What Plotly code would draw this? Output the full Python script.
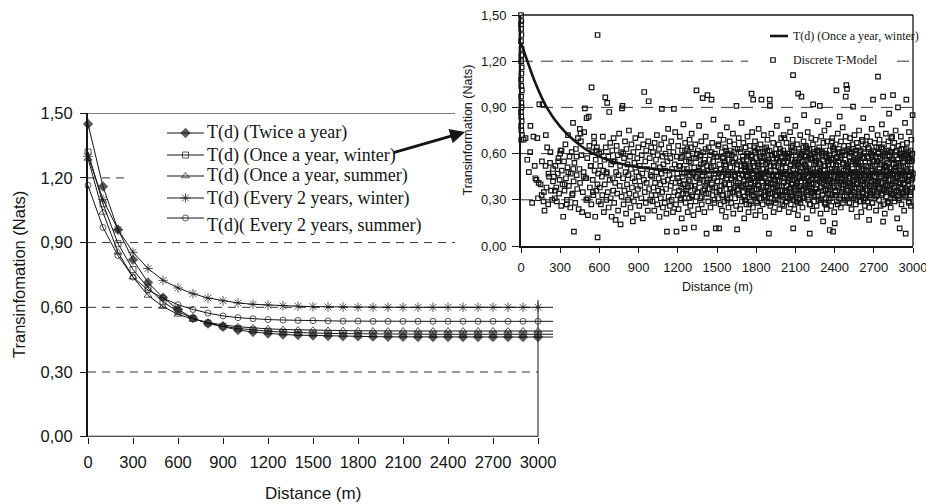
import plotly.graph_objects as go

W, H = 934, 504          # browser window
OFF = 8                  # default page body margin in the browser

# ---------------- main chart data ----------------
distance_m = [0, 100, 200, 300, 400, 500, 600, 700, 800, 900, 1000, 1100, 1200, 1300, 1400, 1500,
              1600, 1700, 1800, 1900, 2000, 2100, 2200, 2300, 2400, 2500, 2600, 2700, 2800, 2900, 3000, 3100]
twice_a_year = [1.45, 1.16, 0.96, 0.82, 0.715, 0.645, 0.59, 0.55, 0.525, 0.51, 0.495, 0.485, 0.478, 0.474, 0.471, 0.469,
                0.467, 0.466, 0.465, 0.464, 0.463, 0.463, 0.462, 0.462, 0.462, 0.462, 0.462, 0.462, 0.462, 0.462, 0.462, 0.462]
once_winter = [1.32, 1.08, 0.895, 0.775, 0.69, 0.625, 0.58, 0.548, 0.527, 0.512, 0.502, 0.495, 0.489, 0.485, 0.482, 0.48,
               0.479, 0.478, 0.477, 0.476, 0.476, 0.476, 0.475, 0.475, 0.475, 0.475, 0.475, 0.475, 0.475, 0.475, 0.475, 0.475]
once_summer = [1.29, 1.04, 0.855, 0.74, 0.655, 0.603, 0.567, 0.545, 0.53, 0.518, 0.51, 0.504, 0.5, 0.497, 0.495, 0.494,
               0.493, 0.492, 0.491, 0.49, 0.49, 0.49, 0.49, 0.49, 0.49, 0.49, 0.49, 0.49, 0.49, 0.49, 0.49, 0.49]
every2_winter = [1.30, 1.10, 0.96, 0.855, 0.78, 0.725, 0.69, 0.663, 0.643, 0.63, 0.62, 0.614, 0.61, 0.607, 0.605, 0.603,
                 0.602, 0.601, 0.60, 0.60, 0.60, 0.60, 0.60, 0.60, 0.60, 0.60, 0.60, 0.60, 0.60, 0.60, 0.60, 0.60]
every2_summer = [1.165, 0.97, 0.84, 0.74, 0.68, 0.643, 0.612, 0.59, 0.573, 0.56, 0.552, 0.547, 0.543, 0.541, 0.539, 0.538,
                 0.537, 0.536, 0.536, 0.535, 0.535, 0.535, 0.535, 0.535, 0.535, 0.535, 0.535, 0.535, 0.535, 0.535, 0.535, 0.535]
series_names = ["T(d) (Twice a year)", "T(d) (Once a year, winter)", "T(d) (Once a year, summer)",
                "T(d) (Every 2 years, winter)", "T(d)( Every 2 years, summer)"]

main_xticks = [0, 300, 600, 900, 1200, 1500, 1800, 2100, 2400, 2700, 3000]
main_xticklabels = ["0", "300", "600", "900", "1200", "1500", "1800", "2100", "2400", "2700", "3000"]
main_yticks = [0, 0.3, 0.6, 0.9, 1.2, 1.5]
main_yticklabels = ["0,00", "0,30", "0,60", "0,90", "1,20", "1,50"]

# ---------------- inset: discrete T-model point cloud (read by eye) ----------------
band_a_d = [0, 2, 1, 3, 0, 4, 2, 1, 5, 3, 0, 2, 6, 1, 3, 4, 0, 2, 5, 1, 3, 7, 2, 0]
band_a_t = [1.50, 1.46, 1.41, 1.37, 1.33, 1.28, 1.24, 1.20, 1.16, 1.12, 1.08, 1.04, 1.01, 0.97, 0.93, 0.90,
            0.87, 0.84, 0.81, 0.78, 0.75, 0.72, 0.69, 1.44]
band_b_d = [20, 35, 48, 60, 72, 85, 95, 105, 118, 125, 135, 140, 150, 158, 165, 172, 180, 188, 195, 200,
            208, 215, 222, 230, 238, 245, 130, 160, 110, 190, 225, 245, 70, 210, 175]
band_b_t = [0.69, 0.70, 0.56, 0.48, 0.78, 0.28, 0.71, 0.52, 0.43, 0.70, 0.41, 0.92, 0.40, 0.33, 0.92, 0.29,
            0.23, 0.52, 0.38, 0.64, 0.27, 0.45, 0.54, 0.36, 0.30, 0.50, 0.31, 0.55, 0.44, 0.72, 0.61, 0.42,
            0.61, 0.47, 0.35]
band_c_d = [252, 258, 263, 270, 274, 281, 287, 292, 296, 303, 308, 312, 318, 323, 329, 333, 340, 344, 351, 356,
            360, 366, 371, 377, 381, 388, 392, 398, 403, 405, 409, 415, 420, 426, 430, 436, 441, 447, 452, 458,
            462, 468, 473, 479, 483, 489, 494, 500, 502, 507, 512, 518, 523, 527, 533, 538, 540, 545, 549, 554,
            559, 563, 568, 572, 577, 581, 586, 590, 594, 598,
            260, 285, 310, 335, 362, 395, 425, 455, 480, 510, 535, 560, 585, 300, 350, 400, 450, 500, 550, 575]
band_c_t = [0.45, 0.31, 0.52, 0.38, 0.29, 0.47, 0.57, 0.34, 0.43, 0.62, 0.26, 0.49, 0.40, 0.19, 0.55, 0.36,
            0.66, 0.44, 0.30, 0.51, 0.72, 0.39, 0.58, 0.25, 0.47, 0.61, 0.33, 0.80, 0.42, 0.093, 0.54, 0.28,
            0.63, 0.46, 0.37, 0.70, 0.24, 0.50, 0.41, 0.68, 0.59, 0.22, 0.35, 0.48, 0.74, 0.894, 0.44, 0.30,
            0.83, 0.57, 0.20, 0.84, 0.65, 0.38, 0.52, 0.27, 1.03, 0.61, 0.43, 0.33, 0.71, 0.49, 0.19, 0.56,
            0.36, 0.64, 0.056, 0.47, 0.29, 0.60,
            0.36, 0.55, 0.62, 0.40, 0.48, 0.34, 0.58, 0.73, 0.45, 0.31, 0.52, 0.67, 0.40, 0.60, 0.27, 0.50,
            0.76, 0.44, 0.35, 0.62]
band_d_d = [603, 607, 611, 615, 619, 622, 626, 630, 634, 638, 641, 645, 649, 653, 656, 660, 664, 668, 671, 675,
            679, 683, 686, 690, 694, 698, 702, 706, 709, 713, 717, 721, 724, 728, 732, 736, 740, 743, 747, 751,
            755, 758, 762, 766, 770, 773, 777, 781, 785, 789, 792, 796, 800, 804, 807, 811, 815, 819, 822, 826,
            830, 834, 838, 841, 845, 849, 853, 856, 860, 864, 868, 872, 875, 879, 883, 887, 890, 894, 898, 902,
            906, 909, 913, 917, 921, 924, 928, 932, 936, 940, 943, 947, 951, 955, 958, 962, 966, 970, 974, 977,
            981, 985, 989, 992, 996, 999, 586, 655, 706, 782]
band_d_t = [0.38, 0.52, 0.27, 0.61, 0.45, 0.33, 0.71, 0.49, 0.22, 0.56,
            0.40, 0.965, 0.64, 0.30, 0.47, 0.93, 0.35, 0.58, 0.25, 0.87,
            0.43, 0.67, 0.31, 0.53, 0.19, 0.62, 0.44, 0.36, 0.70, 0.28,
            0.55, 0.41, 0.17, 0.48, 0.65, 0.34, 0.59, 0.23, 0.46, 0.73,
            0.39, 0.52, 0.14, 0.61, 0.32, 0.894, 0.91, 0.44, 0.27, 0.57,
            0.36, 0.68, 0.48, 0.21, 0.63, 0.40, 0.53, 0.30, 0.46, 0.75,
            0.34, 0.58, 0.25, 0.50, 0.66, 0.38, 0.44, 0.16, 0.61, 0.29,
            0.54, 0.42, 0.70, 0.33, 0.48, 0.20, 0.57, 0.37, 0.64, 0.45,
            0.26, 0.52, 0.39, 0.72, 0.31, 0.59, 0.47, 0.18, 0.66, 0.43,
            1.00, 0.35, 0.55, 0.28, 0.62, 0.41, 0.50, 0.23, 0.68, 0.94,
            0.37, 0.57, 0.30, 0.46, 0.64, 0.33, 1.37, 0.48, 0.55, 0.60]
band_e_d = [1003, 1006, 1010, 1013, 1016, 1020, 1023, 1026, 1030, 1033, 1036, 1040, 1043, 1046, 1050, 1053, 1056, 1060, 1063, 1066,
            1070, 1073, 1076, 1078, 1080, 1083, 1086, 1090, 1093, 1096, 1100, 1103, 1106, 1110, 1113, 1117, 1120, 1123, 1126, 1130,
            1133, 1136, 1140, 1143, 1146, 1150, 1153, 1156, 1160, 1163, 1166, 1170, 1173, 1176, 1180, 1183, 1186, 1190, 1193, 1196,
            1200, 1203, 1206, 1210, 1213, 1216, 1220, 1223, 1226, 1230, 1233, 1236, 1240, 1243, 1246, 1251, 1253, 1256, 1260, 1263,
            1266, 1270, 1273, 1276, 1280, 1283, 1286, 1290, 1293, 1296, 1300, 1303, 1306, 1310, 1313, 1316, 1320, 1323, 1326, 1330,
            1333, 1336, 1340, 1343, 1346, 1350, 1353, 1356, 1360, 1363, 1366, 1370, 1373, 1376, 1380, 1383, 1386, 1390, 1394, 1396,
            1400, 1403, 1406, 1410, 1413, 1416, 1420, 1423, 1427, 1430, 1433, 1436, 1440, 1443, 1446, 1450, 1453, 1458, 1460, 1463,
            1466, 1470, 1473, 1476, 1480, 1483, 1486, 1491, 1493, 1497]
band_e_t = [0.45, 0.29, 0.61, 0.38, 0.52, 0.23, 0.67, 0.41, 0.33, 0.56, 0.48, 0.72, 0.27, 0.59, 0.36, 0.44, 0.63, 0.19, 0.51, 0.40,
            0.31, 0.66, 0.47, 0.89, 0.35, 0.58, 0.25, 0.53, 0.42, 0.70, 0.28, 0.49, 0.60, 0.37, 0.21, 0.093, 0.55, 0.43, 0.76, 0.32,
            0.64, 0.46, 0.26, 0.57, 0.39, 0.68, 0.30, 0.50, 0.44, 0.22, 0.61, 0.89, 0.35, 0.53, 0.74, 0.41, 0.27, 0.093, 0.58, 0.47,
            0.33, 0.65, 0.24, 0.52, 0.42, 0.71, 0.30, 0.57, 0.38, 0.18, 0.62, 0.45, 0.34, 0.79, 0.50, 0.115, 0.40, 0.67, 0.28, 0.55,
            0.36, 0.48, 0.63, 0.22, 0.59, 0.43, 0.31, 0.69, 0.46, 0.26, 0.54, 0.39, 0.73, 0.32, 0.60, 0.47, 0.20, 0.12, 0.51, 0.37,
            0.66, 0.29, 0.57, 1.01, 0.44, 0.35, 0.62, 0.24, 0.49, 0.78, 0.41, 0.58, 0.31, 0.53, 0.68, 0.27, 0.45, 0.96, 0.36, 0.61,
            0.48, 0.22, 0.56, 0.39, 0.71, 0.34, 0.08, 0.52, 0.98, 0.43, 0.29, 0.64, 0.46, 0.37, 0.59, 0.25, 0.51, 0.95, 0.40, 0.67,
            0.33, 0.55, 0.82, 0.44, 0.28, 0.60, 0.38, 0.115, 0.49, 0.35]
band_f_d = [1502, 1505, 1508, 1511, 1514, 1516, 1519, 1522, 1525, 1527, 1530, 1533, 1536, 1538, 1541, 1544, 1547, 1550, 1552, 1555,
            1558, 1561, 1563, 1566, 1569, 1572, 1575, 1577, 1580, 1583, 1586, 1588, 1591, 1594, 1597, 1600, 1602, 1605, 1608, 1611,
            1613, 1616, 1619, 1622, 1625, 1627, 1630, 1633, 1636, 1638, 1641, 1644, 1647, 1649, 1652, 1654, 1657, 1660, 1663, 1666,
            1669, 1671, 1674, 1677, 1680, 1683, 1685, 1688, 1691, 1694, 1697, 1699, 1702, 1705, 1708, 1711, 1713, 1716, 1719, 1722,
            1725, 1727, 1730, 1733, 1736, 1738, 1741, 1744, 1747, 1750, 1752, 1755, 1758, 1761, 1764, 1766, 1769, 1772, 1775, 1777,
            1780, 1783, 1786, 1788, 1791, 1794, 1797, 1800, 1802, 1805, 1808, 1811, 1813, 1816, 1819, 1822, 1825, 1827, 1830, 1833,
            1836, 1838, 1840, 1844, 1847, 1850, 1852, 1855, 1858, 1861, 1863, 1866, 1869, 1872, 1875, 1877, 1880, 1883, 1886, 1888,
            1891, 1894, 1897, 1900, 1902, 1904, 1905, 1908, 1911, 1913, 1916, 1919, 1922, 1925, 1927, 1930, 1933, 1936, 1938, 1941,
            1944, 1947, 1950, 1952, 1955, 1958, 1961, 1963, 1966, 1969, 1972, 1975, 1977, 1980, 1983, 1986, 1988, 1991, 1994, 1997]
band_f_t = [0.42, 0.58, 0.31, 0.66, 0.47, 0.115, 0.53, 0.36, 0.72, 0.27, 0.50, 0.39, 0.61, 0.23, 0.45, 0.57, 0.33, 0.69, 0.48, 0.29,
            0.55, 0.41, 0.64, 0.19, 0.52, 0.37, 0.77, 0.44, 0.30, 0.60, 0.46, 0.25, 0.56, 0.40, 0.68, 0.34, 0.51, 0.62, 0.28, 0.43,
            0.59, 0.35, 0.48, 0.73, 0.21, 0.54, 0.38, 0.66, 0.45, 0.31, 0.57, 0.42, 0.26, 0.91, 0.50, 0.108, 0.63, 0.37, 0.47, 0.70,
            0.33, 0.55, 0.44, 0.24, 0.61, 0.39, 0.52, 0.80, 0.29, 0.46, 0.58, 0.35, 0.67, 0.42, 0.18, 0.53, 0.49, 0.30, 0.64, 0.40,
            0.27, 0.56, 0.45, 0.71, 0.34, 0.60, 0.22, 0.48, 0.38, 0.65, 0.51, 0.43, 0.29, 0.59, 0.99, 0.36, 0.74, 0.47, 0.25, 0.95,
            0.54, 0.32, 0.62, 0.41, 0.68, 0.20, 0.49, 0.57, 0.37, 0.45, 0.28, 0.63, 0.52, 0.39, 0.76, 0.44, 0.31, 0.58, 0.23, 0.66,
            0.47, 0.35, 0.95, 0.55, 0.42, 0.27, 0.61, 0.50, 0.72, 0.33, 0.58, 0.44, 0.19, 0.53, 0.38, 0.64, 0.48, 0.29, 0.69, 0.41,
            0.56, 0.34, 0.08, 0.46, 0.62, 0.95, 0.91, 0.26, 0.52, 0.40, 0.73, 0.31, 0.59, 0.45, 0.37, 0.67, 0.22, 0.54, 0.43, 0.60,
            0.35, 0.49, 0.28, 0.63, 0.46, 0.78, 0.39, 0.57, 0.30, 0.51, 0.66, 0.42, 0.24, 0.55, 0.36, 0.61, 0.47, 0.70, 0.33, 0.58]
band_g_d = [2002, 2004, 2007, 2009, 2012, 2014, 2017, 2019, 2022, 2024, 2027, 2029, 2032, 2034, 2037, 2039, 2042, 2044, 2047, 2049,
            2052, 2054, 2057, 2059, 2062, 2064, 2067, 2069, 2072, 2074, 2077, 2079, 2082, 2083, 2087, 2089, 2092, 2094, 2097, 2099,
            2102, 2104, 2107, 2109, 2112, 2114, 2117, 2119, 2121, 2124, 2127, 2129, 2132, 2134, 2137, 2139, 2142, 2144, 2146, 2149,
            2152, 2154, 2157, 2159, 2162, 2164, 2167, 2169, 2172, 2174, 2177, 2179, 2182, 2184, 2187, 2189, 2192, 2194, 2197, 2199,
            2202, 2204, 2207, 2210, 2212, 2214, 2217, 2219, 2222, 2224, 2227, 2229, 2232, 2234, 2236, 2239, 2242, 2244, 2247, 2249,
            2252, 2254, 2257, 2259, 2262, 2264, 2267, 2269, 2272, 2274, 2277, 2279, 2282, 2284, 2287, 2289, 2292, 2294, 2297, 2299,
            2302, 2304, 2307, 2309, 2312, 2314, 2317, 2319, 2322, 2324, 2327, 2329, 2332, 2334, 2337, 2339, 2342, 2344, 2347, 2349,
            2352, 2354, 2357, 2359, 2363, 2364, 2367, 2369, 2372, 2374, 2377, 2379, 2382, 2384, 2388, 2389, 2392, 2394, 2397, 2399,
            2401, 2404, 2407, 2409, 2412, 2414, 2417, 2419, 2422, 2424, 2427, 2429, 2432, 2434, 2437, 2439, 2442, 2444, 2447, 2449,
            2452, 2454, 2457, 2459, 2462, 2464, 2467, 2469, 2472, 2474, 2477, 2479, 2482, 2484, 2487, 2490, 2492, 2495, 2497, 2499,
            2083, 2010, 2040, 2065, 2095, 2130, 2160, 2185, 2215, 2245, 2270, 2300, 2330, 2355, 2380, 2410, 2435, 2460, 2485, 2500]
band_g_t = [0.47, 0.33, 0.62, 0.41, 0.55, 0.26, 0.70, 0.44, 0.36, 0.58, 0.29, 0.51, 0.67, 0.39, 0.46, 0.82, 0.31, 0.57, 0.43, 0.22,
            0.60, 0.48, 0.35, 0.74, 0.52, 0.27, 0.64, 0.40, 0.56, 0.45, 0.32, 0.69, 1.11, 0.50, 0.38, 0.61, 0.24, 0.54, 0.43, 0.78,
            0.36, 0.59, 0.47, 0.29, 0.66, 0.41, 0.53, 0.20, 0.99, 0.45, 0.63, 0.34, 0.57, 0.48, 0.72, 0.28, 0.51, 0.39, 0.97, 0.60,
            0.44, 0.25, 0.55, 0.37, 0.68, 0.46, 0.85, 0.31, 0.58, 0.42, 0.52, 0.65, 0.35, 0.49, 0.18, 0.61, 0.40, 0.74, 0.30, 0.56,
            0.45, 0.38, 0.63, 0.08, 0.50, 0.27, 0.59, 0.43, 0.70, 0.34, 0.57, 0.47, 0.23, 0.66, 0.92, 0.41, 0.53, 0.32, 0.61, 0.48,
            0.37, 0.69, 0.44, 0.55, 0.26, 0.62, 0.50, 0.81, 0.35, 0.46, 0.58, 0.30, 0.64, 0.42, 0.91, 0.53, 0.21, 0.47, 0.71, 0.38,
            0.60, 0.45, 0.33, 0.56, 0.16, 0.67, 0.49, 0.40, 0.75, 0.28, 0.52, 0.62, 0.36, 0.44, 0.58, 0.24, 0.68, 0.47, 0.34, 0.55,
            0.43, 0.79, 0.30, 0.59, 0.104, 0.50, 0.38, 0.65, 0.46, 0.26, 0.57, 0.41, 0.70, 0.33, 0.093, 0.53, 0.62, 0.45, 0.22, 0.60,
            0.147, 0.48, 0.36, 0.66, 0.52, 1.01, 0.29, 0.58, 0.43, 0.73, 0.39, 0.55, 0.63, 0.31, 0.47, 0.84, 0.42, 0.57, 0.25, 0.68,
            0.50, 0.35, 0.61, 0.44, 0.77, 0.28, 0.54, 0.40, 0.65, 0.47, 0.32, 0.59, 0.45, 0.71, 0.37, 1.045, 0.53, 1.02, 0.62, 0.41,
            0.115, 0.72, 0.60, 0.38, 0.52, 0.30, 0.64, 0.49, 0.57, 0.35, 0.62, 0.44, 0.27, 0.55, 0.68, 0.33, 0.48, 0.61, 0.97, 0.52]
band_h_d = [2502, 2504, 2507, 2509, 2512, 2514, 2517, 2519, 2522, 2524, 2527, 2529, 2532, 2534, 2537, 2539, 2541, 2544, 2547, 2549,
            2552, 2554, 2557, 2559, 2562, 2564, 2567, 2569, 2572, 2574, 2577, 2579, 2582, 2584, 2587, 2589, 2592, 2594, 2597, 2599,
            2602, 2604, 2607, 2609, 2612, 2614, 2617, 2619, 2622, 2624, 2627, 2629, 2632, 2634, 2637, 2639, 2642, 2644, 2647, 2649,
            2652, 2654, 2657, 2659, 2662, 2664, 2667, 2669, 2672, 2674, 2677, 2679, 2682, 2684, 2687, 2689, 2692, 2694, 2697, 2699,
            2702, 2704, 2707, 2709, 2712, 2714, 2717, 2719, 2722, 2724, 2727, 2729, 2732, 2734, 2737, 2739, 2742, 2744, 2747, 2749,
            2752, 2754, 2757, 2759, 2762, 2764, 2767, 2769, 2771, 2774, 2777, 2779, 2782, 2784, 2787, 2789, 2792, 2794, 2797, 2799,
            2802, 2804, 2807, 2809, 2812, 2814, 2817, 2819, 2822, 2824, 2827, 2829, 2832, 2834, 2837, 2839, 2842, 2844, 2847, 2849,
            2852, 2854, 2857, 2859, 2862, 2864, 2867, 2869, 2872, 2874, 2877, 2879, 2882, 2885, 2887, 2889, 2892, 2894, 2898, 2899,
            2902, 2904, 2907, 2909, 2912, 2914, 2917, 2919, 2922, 2924, 2927, 2929, 2932, 2934, 2937, 2939, 2942, 2944, 2947, 2949,
            2952, 2954, 2957, 2959, 2962, 2964, 2967, 2969, 2972, 2974, 2977, 2979, 2982, 2984, 2987, 2989, 2992, 2994, 2997, 2999,
            2771, 2515, 2540, 2565, 2590, 2615, 2640, 2665, 2690, 2715, 2740, 2765, 2790, 2815, 2840, 2865, 2890, 2915, 2940, 2965]
band_h_t = [0.52, 0.36, 0.63, 0.45, 0.28, 0.58, 0.41, 0.70, 0.33, 0.55, 0.47, 0.24, 0.61, 0.39, 0.66, 0.50, 0.905, 0.31, 0.56, 0.43,
            0.72, 0.35, 0.48, 0.60, 0.27, 0.53, 0.44, 0.67, 0.19, 0.57, 0.40, 0.64, 0.32, 0.51, 0.75, 0.46, 0.29, 0.59, 0.38, 0.62,
            0.54, 0.22, 0.47, 0.69, 0.35, 0.57, 0.42, 0.83, 0.30, 0.50, 0.61, 0.44, 0.26, 0.55, 0.37, 0.66, 0.48, 0.33, 0.71, 0.41,
            0.58, 0.29, 0.52, 0.45, 0.63, 0.17, 0.54, 0.39, 0.68, 0.47, 0.34, 0.60, 0.43, 0.76, 0.28, 0.56, 0.49, 0.95, 0.36, 0.62,
            0.45, 0.31, 0.67, 0.52, 0.40, 0.58, 0.23, 0.64, 0.47, 0.35, 0.55, 0.72, 1.10, 0.42, 0.61, 0.30, 0.50, 0.69, 0.38, 0.57,
            0.26, 0.48, 0.63, 0.41, 0.79, 0.53, 0.34, 0.59, 0.97, 0.45, 0.66, 0.37, 0.52, 0.21, 0.60, 0.44, 0.73, 0.32, 0.56, 0.48,
            0.39, 0.62, 0.28, 0.54, 0.68, 0.43, 0.86, 0.35, 0.58, 0.47, 0.61, 0.25, 0.50, 0.70, 0.40, 0.57, 0.33, 0.64, 0.98, 0.46,
            0.53, 0.38, 0.67, 0.29, 0.59, 0.44, 0.75, 0.51, 0.36, 0.62, 0.45, 0.18, 0.56, 0.90, 0.41, 0.65, 0.31, 0.52, 0.115, 0.47,
            0.60, 0.37, 0.71, 0.49, 0.27, 0.58, 0.43, 0.66, 0.34, 0.54, 0.40, 0.63, 0.23, 0.55, 0.46, 0.80, 0.32, 0.08, 0.59, 0.95,
            0.48, 0.67, 0.36, 0.53, 0.42, 0.61, 0.29, 0.74, 0.45, 0.57, 0.35, 0.62, 0.50, 0.26, 0.69, 0.43, 0.56, 0.38, 0.85, 0.47,
            0.158, 0.61, 0.40, 0.55, 0.33, 0.68, 0.46, 0.25, 0.59, 0.42, 0.64, 0.37, 0.52, 0.28, 0.71, 0.49, 0.35, 0.60, 0.44, 0.57]
band_core_d = [1203, 1210, 1218, 1225, 1233, 1240, 1248, 1255, 1263, 1270, 1278, 1285, 1293, 1300, 1308, 1315, 1323, 1330, 1338, 1345,
               1353, 1360, 1368, 1375, 1383, 1390, 1398, 1405, 1413, 1420, 1428, 1435, 1443, 1450, 1458, 1465, 1473, 1480, 1488, 1495,
               1503, 1510, 1518, 1525, 1533, 1540, 1548, 1555, 1563, 1570, 1578, 1585, 1593, 1600, 1608, 1615, 1623, 1630, 1638, 1645,
               1653, 1660, 1668, 1675, 1683, 1690, 1698, 1705, 1713, 1720, 1728, 1735, 1743, 1750, 1758, 1765, 1773, 1780, 1788, 1795,
               1803, 1810, 1818, 1825, 1833, 1840, 1848, 1855, 1863, 1870, 1878, 1885, 1893, 1900, 1908, 1915, 1923, 1930, 1938, 1945,
               1953, 1960, 1968, 1975, 1983, 1990, 1998, 2005, 2013, 2020, 2028, 2035, 2043, 2050, 2058, 2065, 2073, 2080, 2088, 2095,
               2103, 2110, 2118, 2125, 2133, 2140, 2148, 2155, 2163, 2170, 2178, 2185, 2193, 2200, 2208, 2215, 2223, 2230, 2238, 2245,
               2253, 2260, 2268, 2275, 2283, 2290, 2298, 2305, 2313, 2320, 2328, 2335, 2343, 2350, 2358, 2365, 2373, 2380, 2388, 2395,
               2403, 2410, 2418, 2425, 2433, 2440, 2448, 2455, 2463, 2470, 2478, 2485, 2493, 2500, 2508, 2515, 2523, 2530, 2538, 2545,
               2553, 2560, 2568, 2575, 2583, 2590, 2598, 2605, 2613, 2620, 2628, 2635, 2643, 2650, 2658, 2665, 2673, 2680, 2688, 2695,
               2703, 2710, 2718, 2725, 2733, 2740, 2748, 2755, 2763, 2770, 2778, 2785, 2793, 2800, 2808, 2815, 2823, 2830, 2838, 2845,
               2853, 2860, 2868, 2875, 2883, 2890, 2898, 2905, 2913, 2920, 2928, 2935, 2943, 2950, 2958, 2965, 2973, 2980, 2988, 2995]
band_core_t = [0.44, 0.36, 0.52, 0.31, 0.58, 0.40, 0.47, 0.62, 0.34, 0.50, 0.38, 0.55, 0.42, 0.64, 0.33, 0.48, 0.57, 0.39, 0.45, 0.60,
               0.35, 0.51, 0.43, 0.59, 0.32, 0.46, 0.54, 0.37, 0.63, 0.41, 0.49, 0.34, 0.56, 0.44, 0.61, 0.38, 0.52, 0.30, 0.47, 0.58,
               0.42, 0.65, 0.36, 0.50, 0.45, 0.33, 0.57, 0.40, 0.53, 0.62, 0.31, 0.48, 0.59, 0.37, 0.44, 0.55, 0.35, 0.61, 0.46, 0.39,
               0.53, 0.41, 0.34, 0.63, 0.49, 0.38, 0.56, 0.43, 0.32, 0.51, 0.60, 0.45, 0.36, 0.52, 0.40, 0.58, 0.47, 0.33, 0.64, 0.42,
               0.37, 0.54, 0.46, 0.31, 0.61, 0.44, 0.50, 0.39, 0.57, 0.35, 0.48, 0.62, 0.41, 0.55, 0.34, 0.46, 0.59, 0.38, 0.52, 0.43,
               0.33, 0.57, 0.45, 0.39, 0.63, 0.50, 0.36, 0.54, 0.42, 0.60, 0.47, 0.35, 0.58, 0.44, 0.31, 0.53, 0.40, 0.65, 0.46, 0.37,
               0.56, 0.42, 0.34, 0.61, 0.48, 0.39, 0.55, 0.45, 0.32, 0.59, 0.41, 0.51, 0.63, 0.36, 0.47, 0.57, 0.38, 0.44, 0.60, 0.33,
               0.54, 0.40, 0.46, 0.35, 0.62, 0.49, 0.31, 0.58, 0.43, 0.52, 0.37, 0.60, 0.45, 0.53, 0.39, 0.34, 0.56, 0.48, 0.64, 0.42,
               0.50, 0.33, 0.57, 0.44, 0.38, 0.61, 0.46, 0.35, 0.53, 0.40, 0.59, 0.43, 0.36, 0.51, 0.65, 0.41, 0.48, 0.32, 0.55, 0.45,
               0.38, 0.54, 0.62, 0.47, 0.34, 0.58, 0.42, 0.50, 0.37, 0.63, 0.46, 0.31, 0.52, 0.40, 0.57, 0.44, 0.35, 0.61, 0.49, 0.39,
               0.55, 0.42, 0.48, 0.33, 0.60, 0.37, 0.53, 0.45, 0.64, 0.41, 0.36, 0.58, 0.44, 0.51, 0.39, 0.62, 0.47, 0.34, 0.56, 0.43,
               0.49, 0.38, 0.61, 0.45, 0.32, 0.54, 0.41, 0.59, 0.46, 0.35, 0.57, 0.44, 0.37, 0.63, 0.50, 0.40, 0.55, 0.33, 0.48, 0.60]
band_core2_d = [1702, 1708, 1715, 1721, 1728, 1734, 1741, 1747, 1754, 1760, 1767, 1773, 1780, 1786, 1793, 1799, 1806, 1812, 1819, 1825,
                1832, 1838, 1845, 1851, 1858, 1864, 1871, 1877, 1884, 1890, 1897, 1903, 1910, 1916, 1923, 1929, 1936, 1942, 1949, 1955,
                1962, 1968, 1975, 1981, 1988, 1994, 2001, 2007, 2014, 2020, 2027, 2033, 2040, 2046, 2053, 2059, 2066, 2072, 2079, 2085,
                2092, 2098, 2105, 2111, 2118, 2124, 2131, 2137, 2144, 2150, 2157, 2163, 2170, 2176, 2183, 2189, 2196, 2202, 2209, 2215,
                2222, 2228, 2235, 2241, 2248, 2254, 2261, 2267, 2274, 2280, 2287, 2293, 2300, 2306, 2313, 2319, 2326, 2332, 2339, 2345,
                2352, 2358, 2365, 2371, 2378, 2384, 2391, 2397, 2404, 2410, 2417, 2423, 2430, 2436, 2443, 2449, 2456, 2462, 2469, 2475,
                2482, 2488, 2495, 2501, 2508, 2514, 2521, 2527, 2534, 2540, 2547, 2553, 2560, 2566, 2573, 2579, 2586, 2592, 2599, 2605,
                2612, 2618, 2625, 2631, 2638, 2644, 2651, 2657, 2664, 2670, 2677, 2683, 2690, 2696, 2703, 2709, 2716, 2722, 2729, 2735,
                2742, 2748, 2755, 2761, 2768, 2774, 2781, 2787, 2794, 2800, 2807, 2813, 2820, 2826, 2833, 2839, 2846, 2852, 2859, 2865,
                2872, 2878, 2885, 2891, 2898, 2904, 2911, 2917, 2924, 2930, 2937, 2943, 2950, 2956, 2963, 2969, 2976, 2982, 2989, 2995]
band_core2_t = [0.39, 0.52, 0.30, 0.46, 0.58, 0.35, 0.43, 0.27, 0.50, 0.41, 0.33, 0.55, 0.44, 0.37, 0.61, 0.29, 0.48, 0.40, 0.53, 0.34,
                0.45, 0.31, 0.57, 0.38, 0.47, 0.63, 0.32, 0.42, 0.54, 0.36, 0.28, 0.49, 0.41, 0.59, 0.34, 0.45, 0.52, 0.30, 0.38, 0.56,
                0.43, 0.36, 0.60, 0.32, 0.48, 0.39, 0.27, 0.54, 0.44, 0.35, 0.51, 0.29, 0.42, 0.57, 0.37, 0.46, 0.33, 0.62, 0.40, 0.30,
                0.47, 0.55, 0.34, 0.41, 0.28, 0.52, 0.38, 0.45, 0.59, 0.36, 0.31, 0.44, 0.53, 0.39, 0.64, 0.33, 0.49, 0.42, 0.27, 0.56,
                0.40, 0.35, 0.50, 0.29, 0.46, 0.58, 0.37, 0.43, 0.32, 0.54, 0.48, 0.30, 0.41, 0.61, 0.36, 0.45, 0.52, 0.28, 0.39, 0.47,
                0.34, 0.57, 0.43, 0.31, 0.50, 0.38, 0.63, 0.44, 0.35, 0.53, 0.42, 0.27, 0.55, 0.46, 0.33, 0.40, 0.59, 0.37, 0.49, 0.30,
                0.56, 0.39, 0.32, 0.51, 0.44, 0.28, 0.47, 0.60, 0.36, 0.42, 0.35, 0.48, 0.62, 0.30, 0.41, 0.54, 0.38, 0.45, 0.29, 0.52,
                0.43, 0.34, 0.57, 0.40, 0.31, 0.49, 0.36, 0.64, 0.46, 0.33, 0.50, 0.42, 0.28, 0.55, 0.38, 0.45, 0.32, 0.53, 0.41, 0.60,
                0.37, 0.58, 0.44, 0.33, 0.48, 0.27, 0.52, 0.40, 0.35, 0.46, 0.29, 0.43, 0.51, 0.39, 0.61, 0.34, 0.47, 0.56, 0.31, 0.42,
                0.54, 0.36, 0.45, 0.30, 0.50, 0.41, 0.63, 0.38, 0.48, 0.33, 0.40, 0.52, 0.35, 0.59, 0.43, 0.28, 0.46, 0.37, 0.55, 0.44]

inset_names = ["T(d) (Once a year, winter)", "Discrete T-Model"]
inset_xticks = main_xticks
inset_xticklabels = main_xticklabels
inset_yticks = main_yticks
inset_yticklabels = main_yticklabels

model_d, model_t = [], []
for dd, tt in [(band_a_d, band_a_t), (band_b_d, band_b_t), (band_c_d, band_c_t), (band_d_d, band_d_t),
               (band_e_d, band_e_t), (band_f_d, band_f_t), (band_g_d, band_g_t), (band_h_d, band_h_t),
               (band_core_d, band_core_t), (band_core2_d, band_core2_t)]:
    for a, b in zip(dd, tt):
        model_d.append(a)
        model_t.append(b)

# ---------------- layout geometry (window pixels) ----------------
INK = "#151515"
SANS = "Liberation Sans, Arial, sans-serif"
SERIF = "Liberation Serif, Times New Roman, serif"

FW, FH = W - OFF, H - OFF
M_L, M_R, M_T, M_B = 88, 553, 113.2, 436.7       # main plot box (x range 0..3100)
I_L, I_R, I_T, I_B = 521, 913, 15, 246             # inset plot box


def fx(p):
    return (p - OFF) / FW


def fy(p):
    return 1 - (p - OFF) / FH


def inset_dist(px):
    return (px - I_L) / (I_R - I_L) * 3000


fig = go.Figure()

styles = [
    dict(symbol="diamond", size=8, color=INK, line=dict(width=0, color=INK)),
    dict(symbol="square-open", size=6, color=INK, line=dict(width=1, color=INK)),
    dict(symbol="triangle-up-open", size=7, color=INK, line=dict(width=1, color=INK)),
    dict(symbol="asterisk-open", size=8, color=INK, line=dict(width=1, color=INK)),
    dict(symbol="circle-open", size=6, color=INK, line=dict(width=1, color=INK)),
]
series_vals = [twice_a_year, once_winter, once_summer, every2_winter, every2_summer]

# 1) main chart (subplot xy)
for name, vals, st in zip(series_names, series_vals, styles):
    sizes = [st["size"] if d <= 3000 else 0 for d in distance_m]
    mk = dict(st)
    mk["size"] = sizes
    fig.add_trace(go.Scatter(x=distance_m, y=vals, mode="lines+markers", name=name,
                             line=dict(color=INK, width=1), marker=mk, showlegend=False,
                             xaxis="x", yaxis="y", cliponaxis=False))

# 2) window-pixel overlay (subplot x2y2): legend samples + white backing for the inset
LEG_X0, LEG_X1 = 167, 204
leg_rows = [133, 155, 176, 198, 218]
leg_text_rows = [133, 155, 176, 198, 225]
for st, yy in zip(styles, leg_rows):
    mk = dict(st)
    mk["size"] = [0, st["size"], 0]
    fig.add_trace(go.Scatter(x=[LEG_X0, (LEG_X0 + LEG_X1) / 2, LEG_X1], y=[yy] * 3, mode="lines+markers",
                             line=dict(color=INK, width=1), marker=mk, showlegend=False,
                             xaxis="x2", yaxis="y2", hoverinfo="skip", cliponaxis=False))
IL_X0, IL_X1, IL_Y1, IL_Y2 = 770, 788, 36, 60
fig.add_trace(go.Scatter(x=[IL_X0, IL_X1], y=[IL_Y1, IL_Y1], mode="lines", line=dict(color=INK, width=2.6),
                         showlegend=False, xaxis="x2", yaxis="y2", hoverinfo="skip"))
fig.add_trace(go.Scatter(x=[773], y=[IL_Y2], mode="markers", showlegend=False, xaxis="x2", yaxis="y2",
                         marker=dict(symbol="square-open", size=4.5, color=INK, line=dict(width=1.2, color=INK)),
                         hoverinfo="skip"))

# 3) inset (subplot x3y3)
fig.add_trace(go.Scatter(x=model_d, y=model_t, mode="markers", name=inset_names[1], showlegend=False,
                         marker=dict(symbol="square-open", size=4.5, color=INK, line=dict(width=1.2, color=INK)),
                         xaxis="x3", yaxis="y3", cliponaxis=False))
fig.add_trace(go.Scatter(x=distance_m[:-1], y=once_winter[:-1], mode="lines", name=inset_names[0], showlegend=False,
                         line=dict(color=INK, width=2.6, shape="spline", smoothing=0.6), xaxis="x3", yaxis="y3"))

shapes = []
grid_main = dict(color="#333", width=1, dash="8px,6px")
for yv, xend in [(0.3, 3000), (0.6, 3000), (0.9, 3000), (1.2, 260)]:
    shapes.append(dict(type="line", xref="x", yref="y", x0=0, x1=xend, y0=yv, y1=yv, line=grid_main, layer="below"))
shapes.append(dict(type="line", xref="x", yref="y", x0=0, x1=3000, y0=0, y1=0, line=dict(color=INK, width=2), layer="below"))
shapes.append(dict(type="line", xref="x", yref="y", x0=0, x1=3000, y0=1.5, y1=1.5, line=dict(color=INK, width=1.2), layer="below"))
shapes.append(dict(type="line", xref="x", yref="y", x0=3000, x1=3000, y0=0, y1=1.5, line=dict(color=INK, width=1), layer="below"))

# white backing behind the inset (drawn in the overlay subplot, above the main chart)
shapes.append(dict(type="rect", xref="x2", yref="y2", x0=455, x1=W, y0=OFF, y1=300,
                   fillcolor="white", line=dict(width=0), layer="below"))
# inset frame (top and right edges)
shapes.append(dict(type="line", xref="x2", yref="y2", x0=I_L, x1=I_R, y0=I_T, y1=I_T,
                   line=dict(color=INK, width=1.3), layer="below"))
shapes.append(dict(type="line", xref="x2", yref="y2", x0=I_R, x1=I_R, y0=I_T, y1=I_B,
                   line=dict(color=INK, width=1.3), layer="below"))

grid_inset = dict(color="#333", width=1, dash="12px,8px")
for yv, xa, xb in [(0.3, 0, 3000), (0.6, 0, 3000), (0.9, 0, 3000),
                   (1.2, 0, inset_dist(748)), (1.2, inset_dist(897), 3000)]:
    shapes.append(dict(type="line", xref="x3", yref="y3", x0=xa, x1=xb, y0=yv, y1=yv, line=grid_inset, layer="below"))

annotations = []
for name, yy in zip(series_names, leg_text_rows):
    annotations.append(dict(xref="paper", yref="paper", x=fx(LEG_X1 + 1), y=fy(yy), text=name, showarrow=False,
                            xanchor="left", yanchor="middle", font=dict(family=SERIF, size=18, color=INK)))
for name, yy in zip(inset_names, [IL_Y1, IL_Y2]):
    annotations.append(dict(xref="paper", yref="paper", x=fx(791), y=fy(yy), text=name, showarrow=False,
                            xanchor="left", yanchor="middle", font=dict(family=SERIF, size=12, color=INK)))
annotations.append(dict(xref="paper", yref="paper", x=fx(19), y=fy((M_T + M_B) / 2), text="Transinfomation (Nats)",
                        textangle=-90, showarrow=False, xanchor="center", yanchor="middle",
                        font=dict(family=SANS, size=16.5, color=INK)))
annotations.append(dict(xref="paper", yref="paper", x=fx(313), y=fy(493), text="Distance (m)", showarrow=False,
                        xanchor="center", yanchor="middle", font=dict(family=SANS, size=17, color=INK)))
annotations.append(dict(xref="paper", yref="paper", x=fx(468), y=fy((I_T + I_B) / 2), text="Transinformation (Nats)",
                        textangle=-90, showarrow=False, xanchor="center", yanchor="middle",
                        font=dict(family=SANS, size=12.5, color=INK)))
annotations.append(dict(xref="paper", yref="paper", x=fx(717), y=fy(287), text="Distance (m)", showarrow=False,
                        xanchor="center", yanchor="middle", font=dict(family=SANS, size=12.5, color=INK)))
annotations.append(dict(xref="paper", yref="paper", x=fx(465), y=fy(132), ax=-73, ay=21, axref="pixel", ayref="pixel",
                        text="", showarrow=True, arrowhead=2, arrowsize=1, arrowwidth=3, arrowcolor=INK,
                        standoff=0, startstandoff=0))

tick_main = dict(family=SANS, size=16.5, color=INK)
tick_inset = dict(family=SANS, size=13, color=INK)

fig.update_layout(
    width=FW, height=FH, margin=dict(l=0, r=0, t=0, b=0, autoexpand=False),
    paper_bgcolor="white", plot_bgcolor="rgba(0,0,0,0)",
    showlegend=False,
    shapes=shapes, annotations=annotations,
    xaxis=dict(domain=[fx(M_L), fx(M_R)], range=[0, 3100], anchor="y", showgrid=False, zeroline=False,
               showline=False, ticks="outside", ticklen=6, tickwidth=1, tickcolor=INK,
               tickvals=main_xticks, ticktext=main_xticklabels, tickfont=tick_main, ticklabelstandoff=4),
    yaxis=dict(domain=[fy(M_B), fy(M_T)], range=[0, 1.5], anchor="x", showgrid=False, zeroline=False,
               showline=True, linecolor=INK, linewidth=2, ticks="outside", ticklen=6, tickwidth=1, tickcolor=INK,
               tickvals=main_yticks, ticktext=main_yticklabels, tickfont=tick_main, ticklabelstandoff=4),
    xaxis2=dict(domain=[0, 1], range=[OFF, W], anchor="y2", visible=False, fixedrange=True),
    yaxis2=dict(domain=[0, 1], range=[H, OFF], anchor="x2", visible=False, fixedrange=True),
    xaxis3=dict(domain=[fx(I_L), fx(I_R)], range=[0, 3000], anchor="y3", showgrid=False, zeroline=False,
                showline=True, linecolor=INK, linewidth=2, ticks="outside", ticklen=5, tickwidth=1, tickcolor=INK,
                tickvals=inset_xticks, ticktext=inset_xticklabels, tickfont=tick_inset, ticklabelstandoff=3,
                ticklabeloverflow="allow"),
    yaxis3=dict(domain=[fy(I_B), fy(I_T)], range=[0, 1.5], anchor="x3", showgrid=False, zeroline=False,
                showline=True, linecolor=INK, linewidth=2, ticks="outside", ticklen=7, tickwidth=1, tickcolor=INK,
                tickvals=inset_yticks, ticktext=inset_yticklabels, tickfont=tick_inset, ticklabelstandoff=3,
                ticklabeloverflow="allow"),
)

fig.write_html("out.html")
